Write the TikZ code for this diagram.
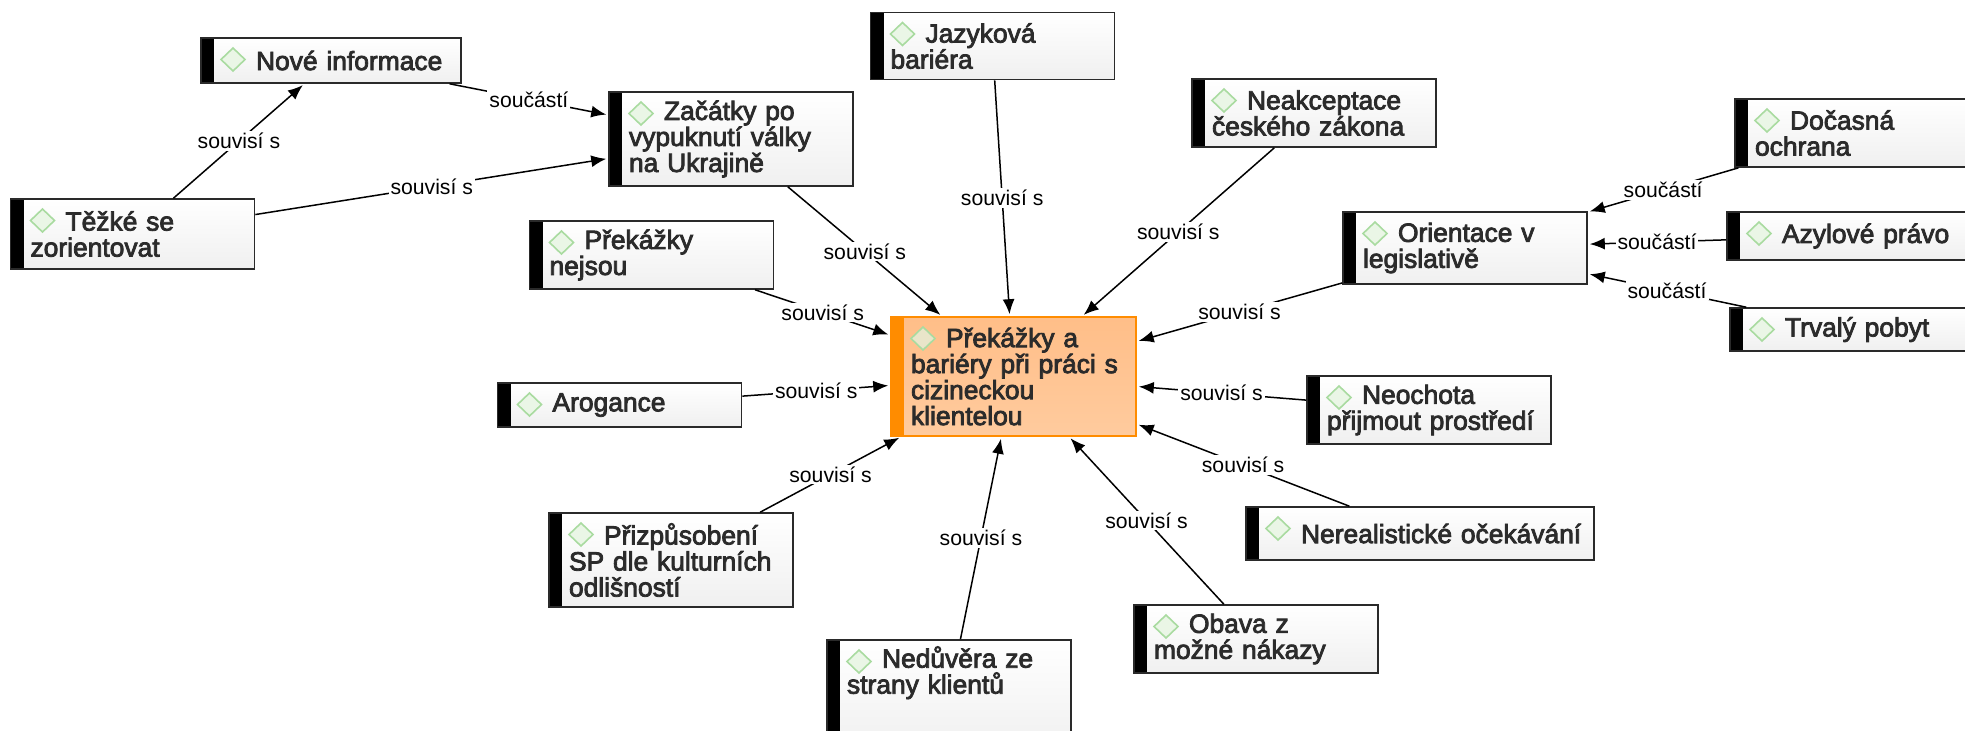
\documentclass[tikz,border=0pt]{standalone}
\usepackage{fontspec}
\setmainfont[FakeBold=3]{Liberation Sans}
\newfontfamily\linkfont{Liberation Sans}
\usetikzlibrary{arrows.meta}

\definecolor{boxline}{HTML}{2A2A2A}
\definecolor{boxtext}{HTML}{2B2B2B}
\definecolor{markline}{HTML}{A9DBA0}
\definecolor{markfill}{HTML}{EAF6E6}
\definecolor{keyorange}{HTML}{FF8C00}
\definecolor{keytop}{HTML}{FFBE88}
\definecolor{keybottom}{HTML}{FFCB9E}
\definecolor{keymarkfill}{HTML}{E9E5C9}

\tikzset{
  boxpic/.style 2 args={path picture={
    \fill[#1] (path picture bounding box.north west) rectangle ([xshift=6.5pt]path picture bounding box.south west);
    \draw[draw=markline,fill=#2,line width=0.8pt]
      ([xshift=10pt,yshift=-10.75pt]path picture bounding box.north west)
      -- ([xshift=16pt,yshift=-5pt]path picture bounding box.north west)
      -- ([xshift=22pt,yshift=-10.75pt]path picture bounding box.north west)
      -- ([xshift=16pt,yshift=-16.5pt]path picture bounding box.north west) -- cycle;
  }},
  boxbase/.style={rectangle,inner xsep=10pt,inner ysep=1pt,text width=102pt,align=left,text=boxtext,
    font=\fontsize{13.2}{13}\selectfont,execute at begin node={\rightskip=-60pt plus 1fil\hspace*{17.5pt}}},
  topicbox/.style={boxbase,draw=boxline,line width=0.8pt,top color=white,bottom color=black!6,boxpic={black}{markfill}},
  keybox/.style={boxbase,draw=keyorange,line width=0.8pt,top color=keytop,bottom color=keybottom,
    boxpic={keyorange}{keymarkfill}},
  link/.style={line width=0.75pt,black,shorten >=1pt,-{Latex[length=7.5pt,width=6pt]}},
  linklabel/.style={fill=white,inner sep=1pt,text=black,font=\linkfont\fontsize{10.6}{12}\selectfont},
}

\begin{document}
\begin{tikzpicture}[x=0.5pt,y=-0.5pt]
  \useasboundingbox (0,0) rectangle (1965,730);
  \clip (0,0) rectangle (1965,730);

  \node (main) at (1013.5,376.5) [keybox,text width=102.5pt,minimum height=59.5pt]{Překážky a\\bariéry při práci s\\cizineckou\\klientelou};

  \node (nove) at (331,60.5) [topicbox,text width=110pt,minimum height=22.5pt]{Nové informace};
  \node (zacatky) at (731,139) [topicbox,minimum height=47pt]{Začátky po\\vypuknutí války\\na Ukrajině};
  \node (tezke) at (132.5,234) [topicbox,minimum height=35pt]{Těžké se\\zorientovat};
  \node (nejsou) at (651.5,255) [topicbox,minimum height=34pt]{Překážky\\nejsou};
  \node (arogance) at (619.5,405) [topicbox,minimum height=22pt]{Arogance};
  \node (prizpusobeni) at (671,560) [topicbox,minimum height=47pt]{Přizpůsobení\\SP dle kulturních\\odlišností};
  \node (neduvera) at (949,696) [topicbox,minimum height=56pt]{Nedůvěra ze\\strany klientů\\~\\~};
  \node (obava) at (1256,639) [topicbox,minimum height=34pt]{Obava z\\možné nákazy};
  \node (nerealisticke) at (1420,533.5) [topicbox,text width=154pt,minimum height=26.5pt]{Nerealistické očekávání};
  \node (neochota) at (1429,410) [topicbox,minimum height=34pt]{Neochota\\přijmout prostředí};
  \node (jazykova) at (992.5,46) [topicbox,minimum height=33.5pt]{Jazyková\\bariéra};
  \node (neakceptace) at (1314,113) [topicbox,minimum height=34pt]{Neakceptace\\českého zákona};

  \node (orientace) at (1465,248) [topicbox,minimum height=36pt]{Orientace v\\legislativě};
  \node (docasna) at (1857,133) [topicbox,minimum height=34pt]{Dočasná\\ochrana};
  \node (azylove) at (1849,236) [topicbox,minimum height=24pt]{Azylové právo};
  \node (trvaly) at (1852,329.5) [topicbox,minimum height=21.5pt]{Trvalý pobyt};

  \draw[link] (tezke) -- node[linklabel]{souvisí s} (nove);
  \draw[link] (tezke) -- node[linklabel]{souvisí s} (zacatky);
  \draw[link] (nove) -- node[linklabel]{součástí} (zacatky);

  \draw[link] (zacatky) -- node[linklabel]{souvisí s} (main);
  \draw[link] (nejsou) -- node[linklabel]{souvisí s} (main);
  \draw[link] (arogance) -- node[linklabel]{souvisí s} (main);
  \draw[link] (prizpusobeni) -- node[linklabel]{souvisí s} (main);
  \draw[link] (neduvera) -- node[linklabel]{souvisí s} (main);
  \draw[link] (obava) -- node[linklabel]{souvisí s} (main);
  \draw[link] (nerealisticke) -- node[linklabel]{souvisí s} (main);
  \draw[link] (neochota) -- node[linklabel]{souvisí s} (main);
  \draw[link] (orientace) -- node[linklabel]{souvisí s} (main);
  \draw[link] (neakceptace) -- node[linklabel]{souvisí s} (main);
  \draw[link] (jazykova) -- node[linklabel]{souvisí s} (main);

  \draw[link] (docasna) -- node[linklabel]{součástí} (orientace);
  \draw[link] (azylove) -- node[linklabel]{součástí} (orientace);
  \draw[link] (trvaly) -- node[linklabel]{součástí} (orientace);

\end{tikzpicture}
\end{document}
